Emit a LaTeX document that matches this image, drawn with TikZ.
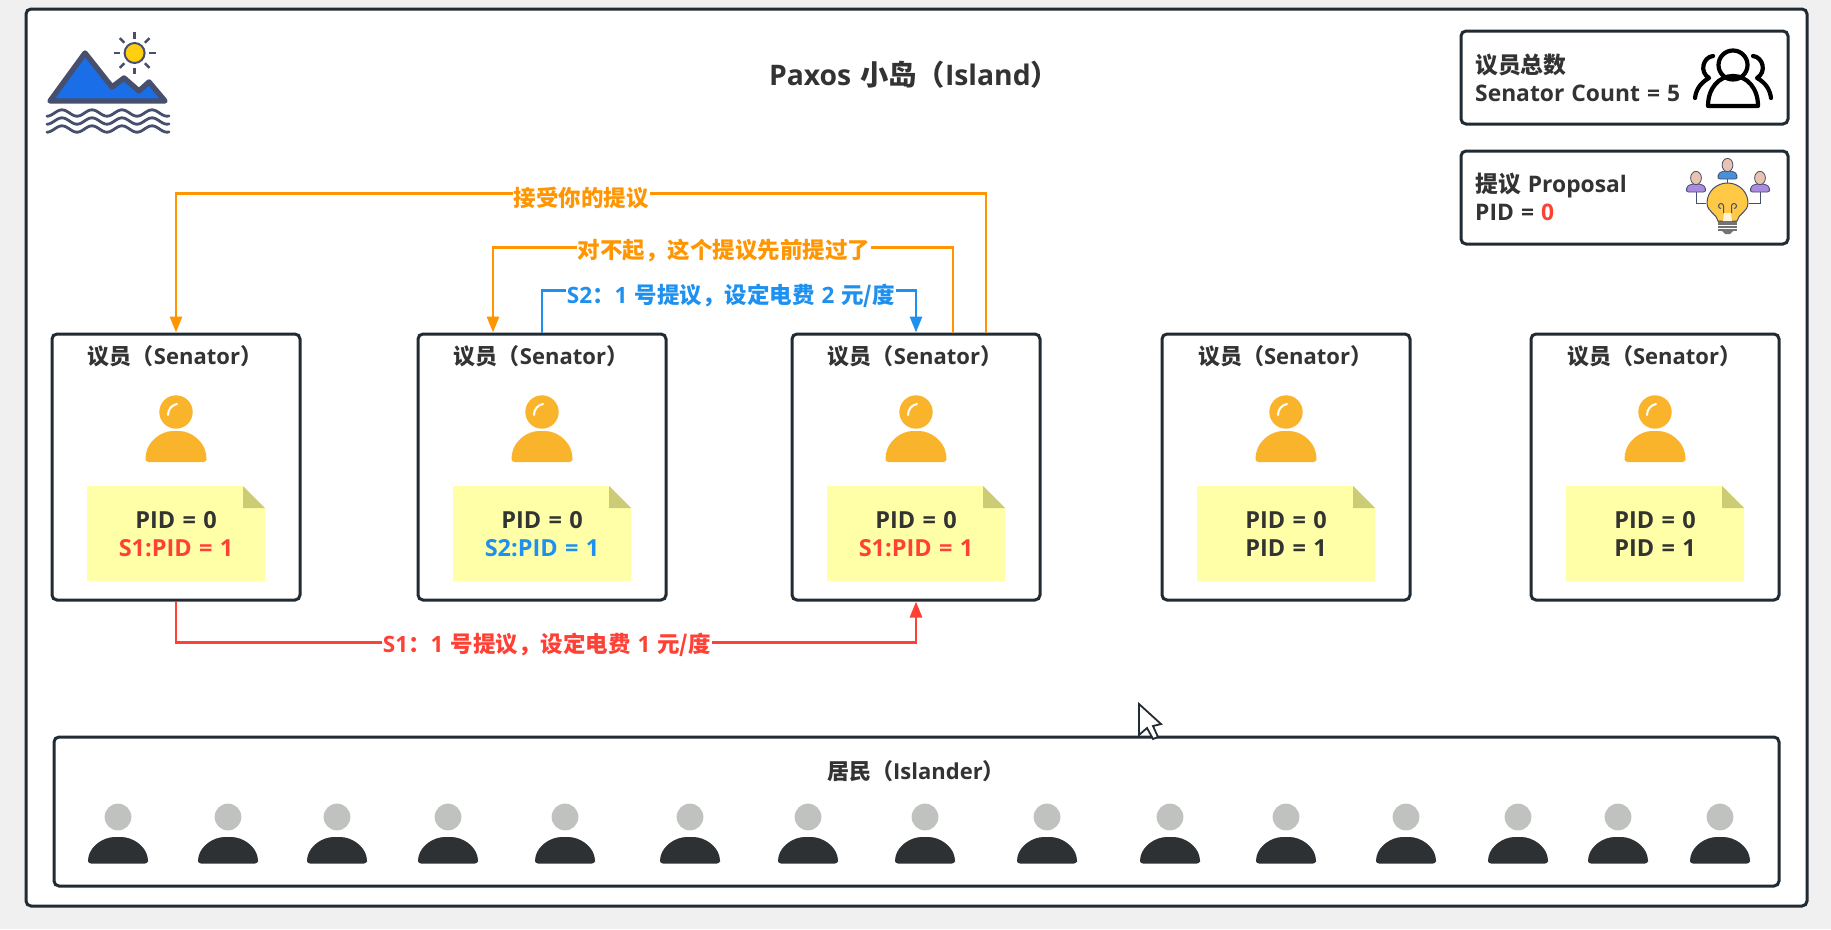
\documentclass[tikz,border=0pt]{standalone}
\usepackage{fontspec}
\usepackage{xcolor}
\usetikzlibrary{calc,arrows.meta,positioning}
\setmainfont{Open Sans}[WordSpace=1.2]
\newfontfamily\zhfont{Noto Sans CJK SC}
\newcommand{\zh}[1]{{\zhfont #1}}
\definecolor{frameDark}{RGB}{33,43,51}
\definecolor{textDark}{RGB}{51,51,51}
\definecolor{pageGrey}{RGB}{240,240,240}
\definecolor{propRed}{RGB}{255,64,52}
\definecolor{propBlue}{RGB}{30,144,240}
\definecolor{replyOrange}{RGB}{255,149,0}
\definecolor{noteYellow}{RGB}{255,255,168}
\definecolor{noteFold}{RGB}{204,204,119}
\definecolor{senatorGold}{RGB}{249,180,44}
\definecolor{logoSlate}{RGB}{71,79,110}
\definecolor{logoBlue}{RGB}{26,111,232}
\definecolor{sunYellow}{RGB}{255,207,16}
\definecolor{headGrey}{RGB}{192,194,192}
\definecolor{bodyDark}{RGB}{45,49,51}
\definecolor{bulbYellow}{RGB}{255,200,69}
\definecolor{skinTone}{RGB}{232,196,176}
\definecolor{crowdPurple}{RGB}{169,139,224}
\definecolor{crowdBlue}{RGB}{74,144,217}
\tikzset{
  boxframe/.style={draw=frameDark,line width=3pt,rounded corners=5pt,fill=white},
  heading/.style={font=\fontsize{22}{26}\selectfont\bfseries,text=textDark,align=center,inner sep=0pt},
  infotext/.style={font=\fontsize{22.8}{28}\selectfont\bfseries,text=textDark,align=left,inner sep=0pt},
  notetext/.style={font=\fontsize{23.5}{28}\selectfont\bfseries,text=textDark,align=center,inner sep=0pt},
  flowline/.style={line width=2.8pt,-{Triangle[length=16pt,width=12pt]}},
  flowlabel/.style={font=\fontsize{22.5}{26}\selectfont\bfseries,fill=white,inner sep=1pt}
}
% senator with a highlight on the head
\newcommand{\SenatorIcon}[1]{%
\begin{scope}[shift={(#1,412)}]
  \fill[senatorGold] (0,0) circle (16.7);
  \draw[white,line width=2pt,line cap=round] (-8,3) .. controls (-8,-3) and (-4,-7) .. (1,-8);
  \fill[senatorGold,rounded corners=3pt] (0,50) -- (-30.5,50) -- (-30.5,45) .. controls (-28,29) and (-15,19) .. (0,19) .. controls (15,19) and (28,29) .. (30.5,45) -- (30.5,50) -- cycle;
\end{scope}}
\newcommand{\IslanderIcon}[1]{%
\begin{scope}[shift={(#1,817)}]
  \fill[headGrey] (0,0) circle (13.4);
  \fill[bodyDark,rounded corners=3pt] (0,46.5) -- (-30,46.5) -- (-30,42) .. controls (-27,29) and (-15,20) .. (0,20) .. controls (15,20) and (27,29) .. (30,42) -- (30,46.5) -- cycle;
\end{scope}}
% sticky note with a folded corner, 178 wide
\newcommand{\NotePaper}[1]{%
\begin{scope}[shift={(#1,486)}]
  \fill[noteYellow] (-89,0) -- (67,0) -- (89,22) -- (89,95) -- (-89,95) -- cycle;
  \fill[noteFold] (67,0) -- (89,22) -- (67,22) -- cycle;
\end{scope}}
\newcommand{\SmallPeer}[3]{%
\begin{scope}[shift={(#1,#2)}]
  \fill[#3,draw=logoSlate,line width=0.8pt,rounded corners=2pt] (-9.5,14) -- (-9.5,11) .. controls (-8,7) and (-4,6) .. (0,6) .. controls (4,6) and (8,7) .. (9.5,11) -- (9.5,14) -- cycle;
  \fill[skinTone,draw=logoSlate,line width=0.8pt] (0,0) ellipse (5.4 and 6.6);
\end{scope}}
\begin{document}
\begin{tikzpicture}[x=1pt,y=-1pt]
\fill[pageGrey] (0,0) rectangle (1831,929);
\useasboundingbox (0,0) rectangle (1831,929);
\draw[boxframe] (26,9) rectangle (1807,906);

% logo: sun, mountains, water
\foreach \a in {0,45,...,315}
  \draw[logoSlate,line width=2.4pt] ($(134.6,53)+(\a:14.5)$) -- ($(134.6,53)+(\a:21)$);
\draw[logoSlate,fill=sunYellow,line width=2pt] (134.6,53) circle (10);
\draw[logoSlate,fill=logoBlue,line width=5.4pt,line join=round] (50,101) -- (85,53) -- (112,87) -- (124,78) -- (139,91) -- (149,82) -- (165,101) -- cycle;
\foreach \wy in {113,121,129}
  \draw[logoSlate,line width=2.8pt,line cap=round,domain=0:122,samples=60,smooth] plot (47+\x,{\wy+3.2*cos(\x*12)});

\node[heading,font=\fontsize{28.3}{32}\selectfont\bfseries] (island) at (914,75) {Paxos \zh{小岛（}Island\zh{）}};

% info boxes
\node[boxframe,minimum width=327pt,minimum height=93pt] (countbox) at (1624.5,77.5) {};
\node[infotext,anchor=west] (counttext) at (1475,78) {\zh{议员总数}\\Senator Count = 5};
\node[boxframe,minimum width=327pt,minimum height=93pt] (proposalbox) at (1624.5,197.5) {};
\node[infotext,anchor=west] (proposaltext) at (1475,197) {\zh{提议} Proposal\\PID = \textcolor{propRed}{0}};

% group icon
\begin{scope}[line width=4.2pt,line cap=round,line join=round,black]
  \draw (1733,65) circle (14.5);
  \draw (1708,106) .. controls (1708,88) and (1719,76) .. (1733,76) .. controls (1747,76) and (1758,88) .. (1758,106) -- cycle;
  \draw (1713,56) .. controls (1703,57) and (1699,72) .. (1709,78) .. controls (1700,83) and (1696,90) .. (1695,98);
  \draw (1753,56) .. controls (1763,57) and (1767,72) .. (1757,78) .. controls (1766,83) and (1770,90) .. (1771,98);
\end{scope}

% idea icon
\draw[logoSlate,line width=1pt] (1696,192) -- (1696,203) -- (1706,203) (1760,192) -- (1760,203) -- (1749,203) (1727.5,178) -- (1727.5,183);
\SmallPeer{1696}{178}{crowdPurple}
\SmallPeer{1727.5}{165}{crowdBlue}
\SmallPeer{1760}{178}{crowdPurple}
\fill[black!55] (1718,221) rectangle (1737,231);
\draw[white,line width=0.8pt] (1718,225) -- (1737,225) (1718,228) -- (1737,228);
\fill[black!55] (1722,231) -- (1733,231) -- (1730,234) -- (1725,234) -- cycle;
\draw[logoSlate,fill=bulbYellow,line width=1pt] (1718,221) .. controls (1717,214) and (1707,212) .. (1707,203) .. controls (1707,192) and (1716,183) .. (1727.5,183) .. controls (1739,183) and (1748,192) .. (1748,203) .. controls (1748,212) and (1738,214) .. (1737,221) -- cycle;
\fill[white!80!bulbYellow] (1723,221) -- (1724,213) -- (1731,213) -- (1732,221) -- cycle;
\draw[logoSlate,line width=1pt] (1723.5,213) -- (1723.5,206) (1731.5,213) -- (1731.5,206) (1723.5,206) arc (0:-270:2.5) (1731.5,206) arc (180:450:2.5);

% senators
\foreach \i/\x/\clr/\txt in {1/176/propRed/S1:PID = 1,2/542/propBlue/S2:PID = 1,3/916/propRed/S1:PID = 1,4/1286/textDark/PID = 1,5/1655/textDark/PID = 1}{
  \node[boxframe,minimum width=248pt,minimum height=266pt] (sen\i) at (\x,467) {};
  \node[heading] (sen\i title) at ($(sen\i.north)+(-1,24)$) {\zh{议员（}Senator\zh{）}};
  \SenatorIcon{\x}
  \NotePaper{\x}
  \node[notetext] (note\i) at (\x,534) {PID = 0\\\textcolor{\clr}{\txt}};
}

% residents
\node[boxframe,minimum width=1725pt,minimum height=149pt] (islander) at (916.5,811.5) {};
\node[heading] (islandertitle) at (916,771) {\zh{居民（}Islander\zh{）}};
\foreach \x in {118,228,337,448,565,690,808,925,1047,1170,1286,1406,1518,1618,1720}{
  \IslanderIcon{\x}
}

% messages between senators
\draw[flowline,replyOrange] ([xshift=70pt]sen3.north) -- ++(0,-139) -| (sen1.north);
\draw[flowline,replyOrange] ([xshift=37pt]sen3.north) -- ++(0,-85) -| ([xshift=-49pt]sen2.north);
\draw[flowline,propBlue] (sen2.north) -- ++(0,-42) -| (sen3.north);
\draw[flowline,propRed] (sen1.south) -- ++(0,41) -| (sen3.south);
\node[flowlabel,text=replyOrange] (acceptlabel) at (581,198) {\zh{接受你的提议}};
\node[flowlabel,text=replyOrange] (rejectlabel) at (724,251) {\zh{对不起，这个提议先前提过了}};
\node[flowlabel,text=propBlue] (s2label) at (731,296) {S2\zh{：}1 \zh{号提议，设定电费} 2 \zh{元/度}};
\node[flowlabel,text=propRed] (s1label) at (547,645) {S1\zh{：}1 \zh{号提议，设定电费} 1 \zh{元/度}};

% pointer
\draw[draw=frameDark,fill=white,line width=1.8pt,line join=miter] (1139,704) -- (1139,735) -- (1147,728) -- (1153,739) -- (1158,737) -- (1153,726) -- (1161,724) -- cycle;
\end{tikzpicture}
\end{document}
